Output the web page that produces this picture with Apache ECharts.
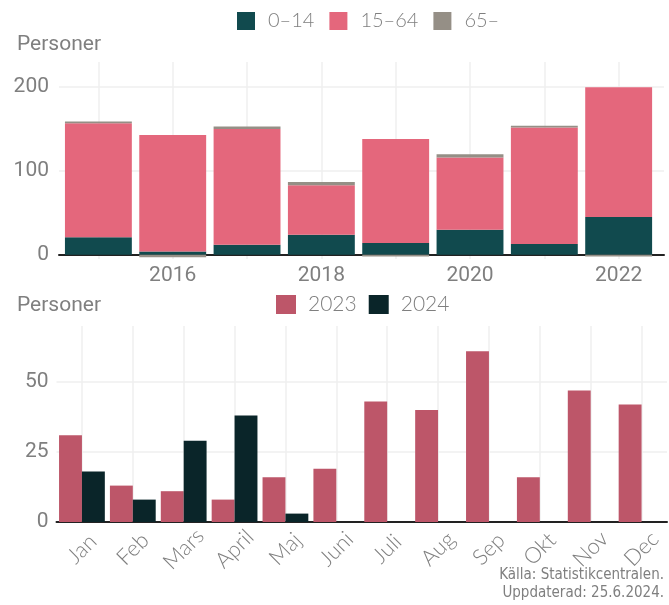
<!DOCTYPE html>
<html>
<head>
<meta charset="utf-8">
<script src="https://cdn.jsdelivr.net/npm/echarts@6/dist/echarts.min.js"></script>
<style>
  html, body { margin: 0; padding: 0; background: #fff; }
  #chart { width: 669px; height: 605px; }
</style>
</head>
<body>
<div id="chart"></div>
<script>
// top chart: yearly, by age group
var years = [2015, 2016, 2017, 2018, 2019, 2020, 2021, 2022];
var age0_14 = [21, 4, 12, 24, 14, 30, 13, 45];
var age15_64 = [136, 139, 138, 59, 124, 86, 139, 155];
var age65 = [2, -3, 3, 4, -2, 4, 2, -2];
var yearLabels = [2016, 2018, 2020, 2022];
var topTicks = [0, 100, 200];

// bottom chart: monthly
var months = ["Jan", "Feb", "Mars", "April", "Maj", "Juni", "Juli", "Aug", "Sep", "Okt", "Nov", "Dec"];
var v2023 = [31, 13, 11, 8, 16, 19, 43, 40, 61, 16, 47, 42];
var v2024 = [18, 8, 29, 38, 3, null, null, null, null, null, null, null];
var bottomTicks = [0, 25, 50];

var grey = "#7f7f7f";
var gridLine = { show: true, lineStyle: { color: "#efefef", width: 1.5 } };
var zeroLine = { show: true, onZero: true, lineStyle: { color: "#222", width: 2 } };
var narrow = "'Liberation Sans Narrow', 'DejaVu Sans Condensed', sans-serif";

// value first so the stack runs on y, year second for x
function pairs(vals) {
  return years.map(function (y, i) { return [vals[i], y]; });
}

var chart = echarts.init(document.getElementById("chart"));

chart.setOption({
  animation: false,
  title: [
    { text: "Personer", left: 12, top: 29, textStyle: { fontFamily: "Roboto", fontSize: 21, fontWeight: "normal", color: grey } },
    { text: "Personer", left: 12, top: 290, textStyle: { fontFamily: "Roboto", fontSize: 21, fontWeight: "normal", color: grey } }
  ],
  legend: [
    {
      data: ["0–14", "15–64", "65–"],
      left: 237, top: 11, padding: 0,
      icon: "rect", itemWidth: 18, itemHeight: 18, itemGap: 15,
      textStyle: { fontFamily: "Lato", fontWeight: 300, fontSize: 20, color: grey, padding: [0, 0, 0, 8] }
    },
    {
      data: ["2023", "2024"],
      left: 276, top: 294, padding: 0,
      icon: "rect", itemWidth: 20, itemHeight: 19, itemGap: 12,
      textStyle: { fontFamily: "Lato", fontWeight: 300, fontSize: 21, color: grey, padding: [0, 0, 0, 7] }
    }
  ],
  grid: [
    { left: 59, right: 5, top: 62, height: 197 },
    { left: 56.5, right: 2, top: 326, height: 196 }
  ],
  xAxis: [
    {
      type: "value", gridIndex: 0, min: 2014.47, max: 2022.61,
      axisLine: zeroLine,
      axisTick: { show: false, customValues: years },
      splitLine: gridLine,
      axisLabel: {
        customValues: yearLabels,
        formatter: function (v) { return String(v); },
        fontFamily: "Roboto", fontSize: 21, color: grey, margin: 6
      }
    },
    {
      type: "category", gridIndex: 1, data: months,
      axisLine: zeroLine,
      axisTick: { show: false, alignWithLabel: true },
      splitLine: { show: true, alignWithLabel: true, lineStyle: { color: "#efefef", width: 1.5 } },
      axisLabel: {
        interval: 0, rotate: 45, align: "center", verticalAlign: "middle", margin: 27,
        fontFamily: "Lato", fontWeight: 300, fontSize: 22, color: grey
      }
    }
  ],
  yAxis: [
    {
      type: "value", gridIndex: 0, min: -5, max: 230,
      axisLine: { show: false },
      axisTick: { show: false, customValues: topTicks },
      splitLine: gridLine,
      axisLabel: { customValues: topTicks, fontFamily: "Roboto", fontSize: 21, color: grey, margin: 10 }
    },
    {
      type: "value", gridIndex: 1, min: 0, max: 70,
      axisLine: { show: false },
      axisTick: { show: false, customValues: bottomTicks },
      splitLine: gridLine,
      axisLabel: { customValues: bottomTicks, fontFamily: "Roboto", fontSize: 21, color: grey, margin: 8 }
    }
  ],
  series: [
    { name: "0–14", type: "bar", stack: "age", xAxisIndex: 0, yAxisIndex: 0, encode: { x: 1, y: 0 }, barWidth: "90%", itemStyle: { color: "#114a4e" }, data: pairs(age0_14) },
    { name: "15–64", type: "bar", stack: "age", xAxisIndex: 0, yAxisIndex: 0, encode: { x: 1, y: 0 }, barWidth: "90%", itemStyle: { color: "#e4677c" }, data: pairs(age15_64) },
    { name: "65–", type: "bar", stack: "age", xAxisIndex: 0, yAxisIndex: 0, encode: { x: 1, y: 0 }, barWidth: "90%", itemStyle: { color: "#958f86" }, data: pairs(age65) },
    { name: "2023", type: "bar", xAxisIndex: 1, yAxisIndex: 1, barGap: 0, barCategoryGap: "10%", itemStyle: { color: "#bd5669" }, data: v2023 },
    { name: "2024", type: "bar", xAxisIndex: 1, yAxisIndex: 1, barGap: 0, barCategoryGap: "10%", itemStyle: { color: "#0a2529" }, data: v2024 }
  ],
  graphic: [
    { type: "text", right: 5, top: 568, style: { text: "Källa: Statistikcentralen.", fontFamily: narrow, fontSize: 15, fill: grey, textAlign: "right" } },
    { type: "text", right: 5, top: 586, style: { text: "Uppdaterad: 25.6.2024.", fontFamily: narrow, fontSize: 15, fill: grey, textAlign: "right" } }
  ]
});
</script>
</body>
</html>
